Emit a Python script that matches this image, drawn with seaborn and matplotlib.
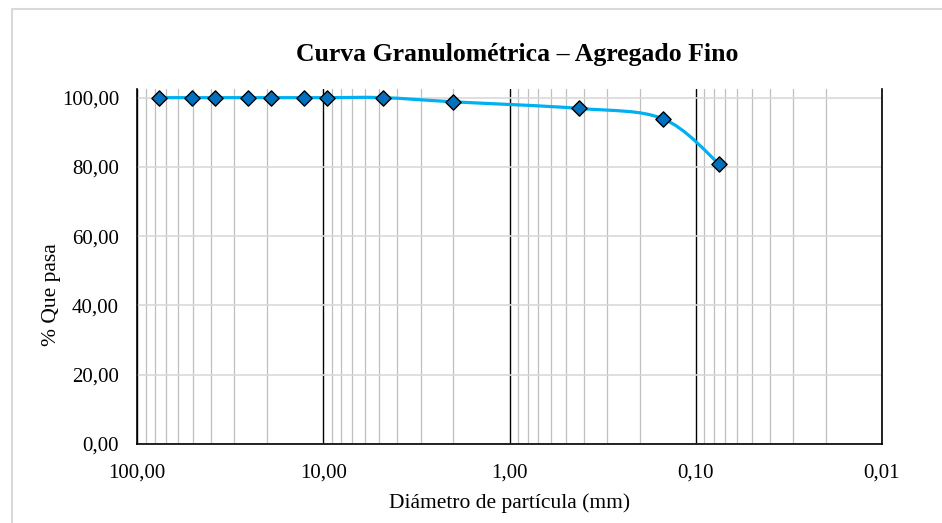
import numpy as np
import pandas as pd
import matplotlib
matplotlib.use("Agg")
import matplotlib.pyplot as plt
from matplotlib.path import Path
from matplotlib.patches import PathPatch, Rectangle
from matplotlib.ticker import LogLocator, FixedLocator, FuncFormatter, NullFormatter
import seaborn as sns

# Sieve openings (mm) and cumulative percent passing
diametro = [76.2, 50.8, 38.1, 25.4, 19.05, 12.7, 9.525, 4.75, 2.0, 0.425, 0.15, 0.075]
pasa = [100.0, 100.0, 100.0, 100.0, 100.0, 100.0, 100.0, 100.0, 98.8, 96.9, 93.9, 80.9]

x_ticks = [100, 10, 1, 0.1, 0.01]
y_ticks = [0, 20, 40, 60, 80, 100]

titulo = "Curva Granulométrica – Agregado Fino"
x_label = "Diámetro de partícula (mm)"
y_label = "% Que pasa"

df = pd.DataFrame({"diametro": diametro, "pasa": pasa})

sns.set_theme(style="white")
plt.rcParams["font.family"] = ["Liberation Serif", "DejaVu Serif"]

fig = plt.figure(figsize=(9.42, 5.23), dpi=100)
fig.patch.set_facecolor("white")
ax = fig.add_axes([137 / 942, 1 - 444 / 523, (882 - 137) / 942, (444 - 89) / 523])

# outer chart-area frame
fig.add_artist(Rectangle((11.5 / 942, -0.05), 1.2, 1 - 8.5 / 523 + 0.05,
                         transform=fig.transFigure, fill=False,
                         edgecolor="#D9D9D9", lw=1.5, zorder=0))

ax.set_xscale("log")
ax.set_xlim(100, 0.01)
ax.set_ylim(0, 102.5)

# smoothed curve (cubic Bezier through the points, Excel-style)
lx = np.log10(df["diametro"].to_numpy())
yy = df["pasa"].to_numpy()
n = len(lx)
verts = [(10 ** lx[0], yy[0])]
codes = [Path.MOVETO]
for i in range(n - 1):
    p0 = max(i - 1, 0)
    p3 = min(i + 2, n - 1)
    c1 = (lx[i] + (lx[i + 1] - lx[p0]) / 6, yy[i] + (yy[i + 1] - yy[p0]) / 6)
    c2 = (lx[i + 1] - (lx[p3] - lx[i]) / 6, yy[i + 1] - (yy[p3] - yy[i]) / 6)
    verts += [(10 ** c1[0], c1[1]), (10 ** c2[0], c2[1]), (10 ** lx[i + 1], yy[i + 1])]
    codes += [Path.CURVE4] * 3
curve = PathPatch(Path(verts, codes), fill=False, edgecolor="#00B0F0",
                  lw=2.3, capstyle="round", joinstyle="round", zorder=3)
ax.add_patch(curve)

sns.scatterplot(data=df, x="diametro", y="pasa", marker="D", s=60,
                color="#0070C0", edgecolor="black", linewidth=1.0,
                zorder=4, ax=ax, clip_on=False)

# grid
ax.xaxis.set_major_locator(FixedLocator(x_ticks))
ax.xaxis.set_minor_locator(LogLocator(base=10, subs=np.arange(2, 10), numticks=20))
ax.xaxis.set_minor_formatter(NullFormatter())
ax.yaxis.set_major_locator(FixedLocator(y_ticks))
fmt = FuncFormatter(lambda v, p: f"{v:.2f}".replace(".", ","))
ax.xaxis.set_major_formatter(fmt)
ax.yaxis.set_major_formatter(fmt)

ax.grid(True, which="major", axis="x", color="black", lw=1.0, zorder=1)
ax.grid(True, which="minor", axis="x", color="#BFBFBF", lw=0.9, zorder=1)
ax.grid(True, which="major", axis="y", color="#D9D9D9", lw=1.2, zorder=1)
ax.set_axisbelow(True)

for side in ["left", "bottom", "right"]:
    ax.spines[side].set_visible(True)
    ax.spines[side].set_color("black")
    ax.spines[side].set_linewidth(1.2)
ax.spines["top"].set_visible(False)

ax.tick_params(axis="both", which="both", length=0, labelsize=15, colors="black")
ax.tick_params(axis="y", pad=13)
ax.tick_params(axis="x", pad=14)

ax.set_xlabel(x_label, fontsize=15.5, color="black")
ax.set_ylabel(y_label, fontsize=15.5, color="black")
ax.xaxis.set_label_coords(0.5, -0.138)
ax.yaxis.set_label_coords(-0.102, 0.42)

fig.text(517 / 942, 1 - 54 / 523, titulo, ha="center", va="center",
         fontsize=18.5, fontweight="bold", color="black")

fig.savefig("out.png", dpi=100, facecolor="white")
